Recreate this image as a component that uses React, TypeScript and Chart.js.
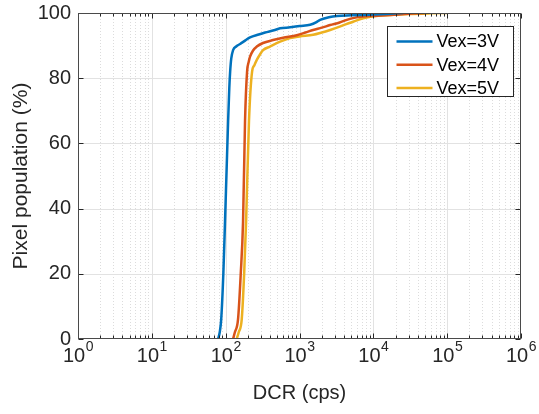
import React, { useEffect, useRef } from "react";
import { Chart, registerables } from "chart.js";

Chart.register(...registerables);

// ---- Data ----
const seriesLabels = ["Vex=3V", "Vex=4V", "Vex=5V"];
const seriesColors = ["#0072BD", "#D95319", "#EDB120"];

const dcrVex3 = [79, 83, 87, 93, 98, 103, 108, 112, 115, 119, 126, 140, 157, 185, 214, 280, 342, 450, 546, 746, 1000, 1392, 1700, 1900, 2500, 3230, 5000, 9060, 15000, 25300];
const popVex3 = [0, 2, 6, 20, 36, 52, 67, 77, 82, 86, 88.6, 89.8, 90.5, 91.6, 92.5, 93.4, 94, 94.7, 95.3, 95.6, 96, 96.4, 97.2, 97.9, 98.7, 99.1, 99.3, 99.5, 99.7, 100];

const dcrVex4 = [126, 133, 147, 160, 172, 183, 195, 205, 214, 235, 264, 320, 439, 600, 918, 1200, 1530, 2000, 2600, 3500, 4380, 5500, 7280, 10000, 16900, 30000, 50000];
const popVex4 = [0, 2, 6, 20, 36, 67, 82, 85, 86.6, 88.5, 89.7, 90.8, 91.7, 92.4, 93.2, 94, 94.8, 95.5, 96.3, 97.1, 97.9, 98.5, 98.9, 99.1, 99.4, 99.8, 100];

const dcrVex5 = [141, 150, 165, 178, 189, 207, 228, 245, 264, 290, 321, 398, 546, 746, 1000, 1530, 2000, 2600, 3500, 4300, 5320, 7280, 10000, 16900, 30000, 60000, 100000];
const popVex5 = [0, 2, 6, 20, 36, 67, 82, 84, 85.6, 87.2, 88.6, 89.7, 91.2, 92.3, 92.8, 93.3, 94, 94.8, 95.8, 96.6, 97.3, 98.4, 99, 99.4, 99.7, 99.9, 100];

const xTickExponents = [0, 1, 2, 3, 4, 5, 6];
const yTickValues = [0, 20, 40, 60, 80, 100];
const xTitle = "DCR (cps)";
const yTitle = "Pixel population (%)";

const FONT = "'Liberation Sans', Arial, Helvetica, sans-serif";
const AXIS_COLOR = "#262626";

const toPoints = (xs: number[], ys: number[]) => xs.map((x, i) => ({ x, y: ys[i] }));

const matlabPlugin = {
  id: "matlabDecor",
  beforeDatasetsDraw(chart: any) {
    const { ctx, chartArea } = chart;
    const xs = chart.scales.x;
    const ys = chart.scales.y;
    ctx.save();
    ctx.beginPath();
    ctx.rect(chartArea.left, chartArea.top, chartArea.right - chartArea.left, chartArea.bottom - chartArea.top);
    ctx.clip();
    ctx.lineWidth = 1;
    ctx.strokeStyle = "#dcdcdc";
    ctx.setLineDash([1, 2]);
    for (let e = xTickExponents[0]; e < xTickExponents[xTickExponents.length - 1]; e++) {
      for (let m = 2; m <= 9; m++) {
        const px = Math.round(xs.getPixelForValue(m * Math.pow(10, e))) + 0.5;
        ctx.beginPath();
        ctx.moveTo(px, chartArea.top);
        ctx.lineTo(px, chartArea.bottom);
        ctx.stroke();
      }
    }
    ctx.setLineDash([]);
    ctx.strokeStyle = "#e2e2e2";
    xTickExponents.forEach((e) => {
      const px = Math.round(xs.getPixelForValue(Math.pow(10, e))) + 0.5;
      ctx.beginPath();
      ctx.moveTo(px, chartArea.top);
      ctx.lineTo(px, chartArea.bottom);
      ctx.stroke();
    });
    yTickValues.forEach((v) => {
      const py = Math.round(ys.getPixelForValue(v)) + 0.5;
      ctx.beginPath();
      ctx.moveTo(chartArea.left, py);
      ctx.lineTo(chartArea.right, py);
      ctx.stroke();
    });
    ctx.restore();
  },
  afterDatasetsDraw(chart: any) {
    const { ctx, chartArea } = chart;
    const xs = chart.scales.x;
    const ys = chart.scales.y;
    const L = Math.round(chartArea.left) + 0.5;
    const R = Math.round(chartArea.right) - 0.5;
    const T = Math.round(chartArea.top) + 0.5;
    const B = Math.round(chartArea.bottom) - 0.5;
    ctx.save();
    ctx.strokeStyle = AXIS_COLOR;
    ctx.lineWidth = 1;
    const vtick = (px: number, len: number) => {
      ctx.beginPath();
      ctx.moveTo(px, B);
      ctx.lineTo(px, B - len);
      ctx.moveTo(px, T);
      ctx.lineTo(px, T + len);
      ctx.stroke();
    };
    for (let e = xTickExponents[0]; e < xTickExponents[xTickExponents.length - 1]; e++) {
      for (let m = 2; m <= 9; m++) {
        vtick(Math.round(xs.getPixelForValue(m * Math.pow(10, e))) + 0.5, 3);
      }
    }
    xTickExponents.forEach((e) => vtick(Math.round(xs.getPixelForValue(Math.pow(10, e))) + 0.5, 5));
    yTickValues.forEach((v) => {
      const py = Math.round(ys.getPixelForValue(v)) + 0.5;
      ctx.beginPath();
      ctx.moveTo(L, py);
      ctx.lineTo(L + 5, py);
      ctx.moveTo(R, py);
      ctx.lineTo(R - 5, py);
      ctx.stroke();
    });
    ctx.strokeStyle = "#4a4a4a";
    ctx.strokeRect(L, T, R - L, B - T);

    // x tick labels 10^n
    ctx.fillStyle = AXIS_COLOR;
    ctx.textBaseline = "alphabetic";
    ctx.textAlign = "left";
    xTickExponents.forEach((e) => {
      const px = xs.getPixelForValue(Math.pow(10, e));
      ctx.font = `20px ${FONT}`;
      const wBase = ctx.measureText("10").width;
      ctx.font = `14px ${FONT}`;
      const wSup = ctx.measureText(String(e)).width;
      const start = px - (wBase + wSup) / 2;
      ctx.font = `20px ${FONT}`;
      ctx.fillText("10", start, B + 23);
      ctx.font = `14px ${FONT}`;
      ctx.fillText(String(e), start + wBase + 0.5, B + 12);
    });

    // legend
    const bx = Math.round(chartArea.right) - 134 + 0.5;
    const by = Math.round(chartArea.top) + 13.5;
    const bw = 126;
    const bh = 70;
    ctx.fillStyle = "#ffffff";
    ctx.fillRect(bx, by, bw, bh);
    ctx.strokeStyle = "#262626";
    ctx.lineWidth = 1;
    ctx.strokeRect(bx, by, bw, bh);
    ctx.font = `18px ${FONT}`;
    ctx.textBaseline = "middle";
    seriesLabels.forEach((lab, i) => {
      const cy = by + 15 + i * 23.3;
      ctx.strokeStyle = seriesColors[i];
      ctx.lineWidth = 2.5;
      ctx.beginPath();
      ctx.moveTo(bx + 9, cy);
      ctx.lineTo(bx + 45, cy);
      ctx.stroke();
      ctx.fillStyle = "#000000";
      ctx.fillText(lab, bx + 49, cy + 1);
    });
    ctx.restore();
  },
};

export default function App() {
  const canvasRef = useRef<HTMLCanvasElement | null>(null);

  useEffect(() => {
    if (!canvasRef.current) return;
    const datasets = [
      toPoints(dcrVex3, popVex3),
      toPoints(dcrVex4, popVex4),
      toPoints(dcrVex5, popVex5),
    ].map((data, i) => ({
      label: seriesLabels[i],
      data,
      borderColor: seriesColors[i],
      backgroundColor: seriesColors[i],
      borderWidth: 2.5,
      pointRadius: 0,
      fill: false,
      cubicInterpolationMode: "monotone" as const,
    }));

    const chart = new Chart(canvasRef.current, {
      type: "line",
      data: { datasets },
      options: {
        responsive: false,
        animation: false,
        layout: { padding: { left: 0, right: 18, top: 13, bottom: 0 } },
        plugins: { legend: { display: false }, tooltip: { enabled: false } },
        scales: {
          x: {
            type: "logarithmic",
            min: 1,
            max: 1e6,
            grid: { display: false },
            border: { display: false },
            ticks: { display: false, autoSkip: false },
            title: {
              display: true,
              text: xTitle,
              color: AXIS_COLOR,
              font: { family: FONT, size: 20 },
              padding: { top: 0, bottom: 9 },
            },
            afterFit: (scale: any) => {
              scale.height = 75;
              scale.paddingLeft = 0;
              scale.paddingRight = 0;
            },
          },
          y: {
            type: "linear",
            min: 0,
            max: 100,
            grid: { display: false, drawTicks: false },
            border: { display: false },
            ticks: {
              stepSize: 20,
              color: AXIS_COLOR,
              font: { family: FONT, size: 20 },
              padding: 7,
            },
            title: {
              display: true,
              text: yTitle,
              color: AXIS_COLOR,
              font: { family: FONT, size: 21 },
              padding: { top: 9, bottom: 0 },
            },
            afterFit: (scale: any) => {
              scale.width = 78;
              scale.paddingTop = 0;
              scale.paddingBottom = 0;
            },
          },
        },
      },
      plugins: [matlabPlugin],
    });
    return () => chart.destroy();
  }, []);

  return (
    <div style={{ position: "fixed", left: 0, top: 0, width: 539, height: 414, background: "#ffffff" }}>
      <canvas ref={canvasRef} width={539} height={414} style={{ width: 539, height: 414, display: "block" }} />
    </div>
  );
}
